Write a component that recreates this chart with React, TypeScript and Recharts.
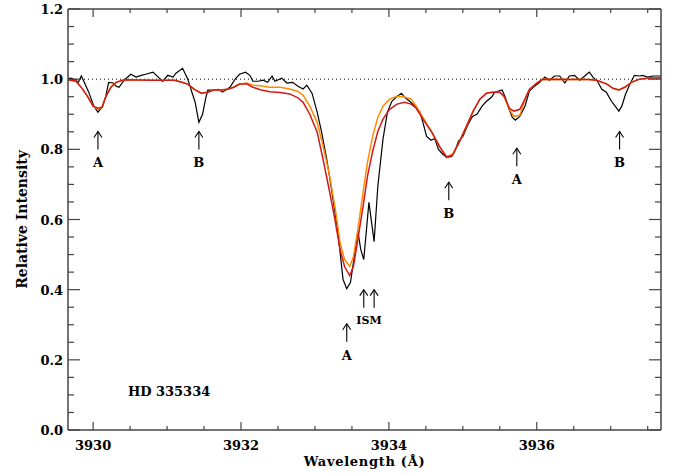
import React from 'react';
import { LineChart, Line, XAxis, YAxis, ReferenceLine, ReferenceDot } from 'recharts';

// observed spectrum (black)
const obsWave = [
  3929.63, 3929.70, 3929.77, 3929.80, 3929.84, 3929.88, 3929.94, 3930.01, 3930.065, 3930.13,
  3930.17, 3930.21, 3930.27, 3930.31, 3930.35, 3930.42, 3930.51, 3930.58, 3930.65, 3930.71,
  3930.81, 3930.88, 3930.94, 3931.01, 3931.08, 3931.12, 3931.21, 3931.28, 3931.34, 3931.38,
  3931.43, 3931.48, 3931.52, 3931.55, 3931.62, 3931.69, 3931.75, 3931.81, 3931.85, 3931.92,
  3931.98, 3932.06, 3932.12, 3932.16, 3932.23, 3932.30, 3932.36, 3932.42, 3932.46, 3932.55,
  3932.62, 3932.70, 3932.77, 3932.84, 3932.89, 3932.96, 3933.03, 3933.09, 3933.16, 3933.23,
  3933.30, 3933.34, 3933.38, 3933.43, 3933.48, 3933.54, 3933.58, 3933.62, 3933.66, 3933.73,
  3933.80, 3933.85, 3933.92, 3933.98, 3934.04, 3934.11, 3934.17, 3934.21, 3934.28, 3934.35,
  3934.42, 3934.46, 3934.51, 3934.57, 3934.62, 3934.67, 3934.73, 3934.78, 3934.85, 3934.90,
  3934.94, 3935.00, 3935.07, 3935.13, 3935.19, 3935.26, 3935.32, 3935.39, 3935.43, 3935.53,
  3935.57, 3935.62, 3935.67, 3935.71, 3935.77, 3935.84, 3935.90, 3935.97, 3936.04, 3936.11,
  3936.17, 3936.24, 3936.31, 3936.38, 3936.44, 3936.51, 3936.58, 3936.65, 3936.71, 3936.76,
  3936.82, 3936.88, 3936.94, 3937.01, 3937.07, 3937.11, 3937.15, 3937.20, 3937.26, 3937.32,
  3937.39, 3937.43, 3937.50, 3937.57, 3937.63, 3937.68,
];
const obsFlux = [
  1.000, 1.003, 0.997, 0.991, 1.009, 0.991, 0.963, 0.923, 0.906, 0.923,
  0.951, 0.991, 0.989, 0.980, 0.977, 0.997, 1.014, 1.006, 1.011, 1.014,
  1.020, 1.006, 0.994, 1.011, 1.006, 1.017, 1.031, 1.000, 0.960, 0.934,
  0.877, 0.900, 0.943, 0.969, 0.969, 0.971, 0.963, 0.971, 0.977, 1.000,
  1.014, 1.020, 1.011, 0.994, 0.994, 0.997, 0.991, 1.009, 0.994, 1.003,
  0.989, 0.991, 0.980, 0.972, 0.983, 0.960, 0.906, 0.849, 0.771, 0.677,
  0.580, 0.506, 0.429, 0.403, 0.420, 0.506, 0.566, 0.514, 0.486, 0.649,
  0.537, 0.694, 0.829, 0.906, 0.937, 0.951, 0.960, 0.949, 0.937, 0.923,
  0.906, 0.877, 0.837, 0.826, 0.831, 0.800, 0.786, 0.777, 0.780, 0.800,
  0.823, 0.837, 0.871, 0.894, 0.900, 0.923, 0.937, 0.949, 0.963, 0.969,
  0.951, 0.917, 0.891, 0.883, 0.894, 0.923, 0.966, 0.980, 0.991, 1.006,
  0.997, 1.009, 1.009, 0.989, 1.009, 1.011, 0.997, 1.009, 1.020, 1.006,
  0.994, 0.971, 0.963, 0.937, 0.920, 0.909, 0.923, 0.957, 0.986, 1.011,
  1.009, 1.011, 1.006, 1.009, 1.009, 1.009,
];

// synthetic spectra (orange, red)
const modelWave = [
  3929.63, 3929.77, 3929.86, 3929.93, 3930.00, 3930.065, 3930.12, 3930.17, 3930.24, 3930.31,
  3930.42, 3930.80, 3931.10, 3931.20, 3931.28, 3931.37, 3931.46, 3931.55, 3931.63, 3931.73,
  3931.82, 3931.90, 3931.98, 3932.08, 3932.16, 3932.26, 3932.39, 3932.53, 3932.66, 3932.77,
  3932.84, 3932.93, 3933.03, 3933.11, 3933.20, 3933.27, 3933.34, 3933.40, 3933.47, 3933.52,
  3933.58, 3933.65, 3933.71, 3933.78, 3933.85, 3933.92, 3934.01, 3934.11, 3934.21, 3934.30,
  3934.37, 3934.46, 3934.58, 3934.69, 3934.78, 3934.86, 3934.95, 3935.05, 3935.14, 3935.23,
  3935.32, 3935.40, 3935.50, 3935.56, 3935.63, 3935.69, 3935.77, 3935.84, 3935.90, 3936.00,
  3936.08, 3936.70, 3936.81, 3936.95, 3937.03, 3937.11, 3937.19, 3937.28, 3937.39, 3937.52,
  3937.68,
];
const orangeFlux = [
  1.000, 0.994, 0.971, 0.949, 0.923, 0.914, 0.920, 0.949, 0.977, 0.991,
  0.998, 0.997, 0.997, 0.991, 0.986, 0.971, 0.960, 0.963, 0.969, 0.969,
  0.971, 0.977, 0.986, 0.989, 0.983, 0.981, 0.977, 0.977, 0.972, 0.965,
  0.954, 0.923, 0.877, 0.809, 0.723, 0.637, 0.534, 0.486, 0.466, 0.494,
  0.571, 0.677, 0.763, 0.837, 0.891, 0.923, 0.943, 0.951, 0.949, 0.943,
  0.923, 0.891, 0.849, 0.806, 0.780, 0.786, 0.820, 0.866, 0.909, 0.943,
  0.960, 0.963, 0.963, 0.949, 0.914, 0.894, 0.897, 0.943, 0.971, 0.989,
  1.000, 0.999, 0.997, 0.986, 0.974, 0.969, 0.977, 0.991, 1.000, 1.003,
  1.003,
];
const redFlux = [
  1.000, 0.994, 0.971, 0.949, 0.923, 0.917, 0.920, 0.949, 0.977, 0.991,
  0.998, 0.997, 0.997, 0.991, 0.986, 0.971, 0.960, 0.963, 0.969, 0.969,
  0.971, 0.977, 0.986, 0.986, 0.977, 0.970, 0.964, 0.962, 0.958, 0.947,
  0.934, 0.900, 0.849, 0.771, 0.677, 0.600, 0.514, 0.466, 0.440, 0.466,
  0.543, 0.637, 0.723, 0.794, 0.851, 0.886, 0.914, 0.929, 0.934, 0.929,
  0.917, 0.886, 0.849, 0.806, 0.777, 0.783, 0.820, 0.866, 0.909, 0.943,
  0.960, 0.963, 0.963, 0.951, 0.917, 0.909, 0.914, 0.943, 0.971, 0.989,
  1.000, 0.999, 0.997, 0.986, 0.974, 0.969, 0.977, 0.991, 1.000, 1.003,
  1.003,
];

// line identifications
const markWave = [3930.065, 3931.43, 3933.43, 3934.81, 3935.73, 3937.12];
const markTip = [0.851, 0.851, 0.303, 0.706, 0.803, 0.851];
const markLabel = ['A', 'B', 'A', 'B', 'A', 'B'];
const ismWave = [3933.66, 3933.80];
const ismTip = 0.4;

const xMajorTicks = [3930, 3932, 3934, 3936];
const xMinorTicks = [3930.5, 3931, 3931.5, 3932.5, 3933, 3933.5, 3934.5, 3935, 3935.5, 3936.5, 3937, 3937.5];
const yMajorTicks = [0, 0.2, 0.4, 0.6, 0.8, 1.0, 1.2];
const yMinorTicks = [0.05, 0.1, 0.15, 0.25, 0.3, 0.35, 0.45, 0.5, 0.55, 0.65, 0.7, 0.75, 0.85, 0.9, 0.95, 1.05, 1.1, 1.15];

const xDomain = [3929.66, 3937.68];
const xTicks = [...xMajorTicks, ...xMinorTicks].sort((a, b) => a - b);
const yTicks = [...yMajorTicks, ...yMinorTicks].sort((a, b) => a - b);

const observed = obsWave.map((w, i) => ({ w, f: obsFlux[i] }));
const orange = modelWave.map((w, i) => ({ w, f: orangeFlux[i] }));
const red = modelWave.map((w, i) => ({ w, f: redFlux[i] }));

const FONT = '"DejaVu Serif", serif';
const AXIS = '#444';
const isMajor = (v: number, majors: number[]) => majors.some((m) => Math.abs(m - v) < 1e-6);

const BottomTick = ({ x, y, payload }: any) => {
  const major = isMajor(payload.value, xMajorTicks);
  return (
    <g>
      <line x1={x} x2={x} y1={y} y2={y - (major ? 8 : 4)} stroke={AXIS} strokeWidth={1.2} />
      {major && (
        <text x={x} y={y + 20} textAnchor="middle" fontFamily={FONT} fontWeight="bold" fontSize={13} fill="#000">
          {payload.value}
        </text>
      )}
    </g>
  );
};

const TopTick = ({ x, y, payload }: any) => {
  const major = isMajor(payload.value, xMajorTicks);
  return <line x1={x} x2={x} y1={y} y2={y + (major ? 8 : 4)} stroke={AXIS} strokeWidth={1.2} />;
};

const LeftTick = ({ x, y, payload }: any) => {
  const major = isMajor(payload.value, yMajorTicks);
  return (
    <g>
      <line x1={x} x2={x + (major ? 12 : 6)} y1={y} y2={y} stroke={AXIS} strokeWidth={1.2} />
      {major && (
        <text x={x - 5} y={y + 5} textAnchor="end" fontFamily={FONT} fontWeight="bold" fontSize={13} fill="#000">
          {payload.value.toFixed(1)}
        </text>
      )}
    </g>
  );
};

const RightTick = ({ x, y, payload }: any) => {
  const major = isMajor(payload.value, yMajorTicks);
  return <line x1={x} x2={x - (major ? 12 : 6)} y1={y} y2={y} stroke={AXIS} strokeWidth={1.2} />;
};

const Arrow = ({ cx, cy, label }: any) => (
  <g>
    <line x1={cx} x2={cx} y1={cy} y2={cy + 18} stroke="#000" strokeWidth={1.1} />
    <polyline points={`${cx - 4},${cy + 6} ${cx},${cy} ${cx + 4},${cy + 6}`} fill="none" stroke="#000" strokeWidth={1.1} />
    {label && (
      <text x={cx} y={cy + 36} textAnchor="middle" fontFamily={FONT} fontWeight="bold" fontSize={13} fill="#000">
        {label}
      </text>
    )}
  </g>
);

const YLabel = ({ viewBox }: any) => (
  <text
    x={27}
    y={viewBox.y + viewBox.height / 2}
    transform={`rotate(-90 27 ${viewBox.y + viewBox.height / 2})`}
    textAnchor="middle"
    fontFamily={FONT}
    fontWeight="bold"
    fontSize={14}
    fill="#000"
  >
    Relative Intensity
  </text>
);

const XLabel = ({ viewBox }: any) => (
  <text
    x={viewBox.x + viewBox.width / 2}
    y={viewBox.y + 36}
    textAnchor="middle"
    fontFamily={FONT}
    fontWeight="bold"
    fontSize={13}
    letterSpacing={0.7}
    fill="#000"
  >
    Wavelength (Å)
  </text>
);

export default function App() {
  return (
    <div style={{ position: 'absolute', left: 0, top: 0, background: '#fff' }}>
      <LineChart width={676} height={474} margin={{ top: 0, right: 0, bottom: 0, left: 0 }}>
        <XAxis
          dataKey="w"
          type="number"
          domain={xDomain}
          allowDataOverflow
          ticks={xTicks}
          interval={0}
          tickSize={0}
          tickMargin={0}
          tickLine={false}
          tick={BottomTick}
          height={44}
          axisLine={{ stroke: AXIS, strokeWidth: 1.5 }}
          label={XLabel}
        />
        <XAxis
          xAxisId="top"
          orientation="top"
          dataKey="w"
          type="number"
          domain={xDomain}
          allowDataOverflow
          ticks={xTicks}
          interval={0}
          tickSize={0}
          tickMargin={0}
          tickLine={false}
          tick={TopTick}
          height={9}
          axisLine={{ stroke: AXIS, strokeWidth: 1.5 }}
        />
        <YAxis
          type="number"
          domain={[0, 1.2]}
          allowDataOverflow
          ticks={yTicks}
          interval={0}
          tickSize={0}
          tickMargin={0}
          tickLine={false}
          tick={LeftTick}
          width={68}
          axisLine={{ stroke: AXIS, strokeWidth: 1.5 }}
          label={YLabel}
        />
        <YAxis
          yAxisId="right"
          orientation="right"
          type="number"
          domain={[0, 1.2]}
          allowDataOverflow
          ticks={yTicks}
          interval={0}
          tickSize={0}
          tickMargin={0}
          tickLine={false}
          tick={RightTick}
          width={15}
          axisLine={{ stroke: AXIS, strokeWidth: 1.5 }}
        />
        <ReferenceLine y={1} stroke="#000" strokeWidth={1} strokeDasharray="1 3" />
        <Line data={observed} dataKey="f" type="linear" stroke="#000" strokeWidth={1.2} dot={false} isAnimationActive={false} />
        <Line data={orange} dataKey="f" type="linear" stroke="#ff8c00" strokeWidth={1.5} dot={false} isAnimationActive={false} />
        <Line data={red} dataKey="f" type="linear" stroke="#d01a1a" strokeWidth={1.5} dot={false} isAnimationActive={false} />
        {markWave.map((w, i) => (
          <ReferenceDot
            key={`m${i}`}
            x={w}
            y={markTip[i]}
            r={0}
            shape={(p: any) => <Arrow cx={p.cx} cy={p.cy} label={markLabel[i]} />}
          />
        ))}
        {ismWave.map((w, i) => (
          <ReferenceDot key={`ism${i}`} x={w} y={ismTip} r={0} shape={(p: any) => <Arrow cx={p.cx} cy={p.cy} />} />
        ))}
        <ReferenceDot
          x={(ismWave[0] + ismWave[1]) / 2}
          y={ismTip}
          r={0}
          shape={(p: any) => (
            <text x={p.cx} y={p.cy + 34} textAnchor="middle" fontFamily={FONT} fontWeight="bold" fontSize={11} fill="#000">
              ISM
            </text>
          )}
        />
        <ReferenceDot
          x={3930.47}
          y={0.111}
          r={0}
          shape={(p: any) => (
            <text x={p.cx} y={p.cy + 5} textAnchor="start" fontFamily={FONT} fontWeight="bold" fontSize={13} fill="#000">
              HD 335334
            </text>
          )}
        />
      </LineChart>
    </div>
  );
}
